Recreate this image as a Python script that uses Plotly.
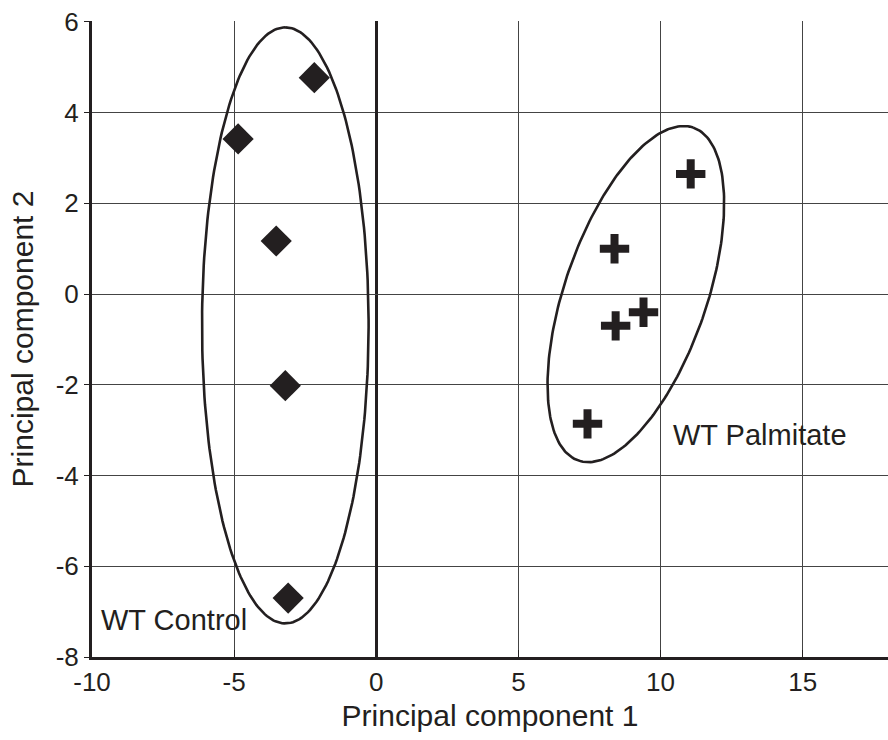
import numpy as np
import plotly.graph_objects as go

# Data
control_x = [-2.18, -4.86, -3.52, -3.2, -3.1]
control_y = [4.77, 3.42, 1.17, -2.02, -6.7]
palm_x = [11.06, 8.38, 9.4, 8.42, 7.43]
palm_y = [2.65, 1.0, -0.4, -0.7, -2.86]

x_ticks = [-10, -5, 0, 5, 10, 15]
x_ticktext = ["-10", "-5", "0", "5", "10", "15"]
y_ticks = [-8, -6, -4, -2, 0, 2, 4, 6]
y_ticktext = ["-8", "-6", "-4", "-2", "0", "2", "4", "6"]

# Group ellipses: centre and two conjugate semi-axis vectors (data units)
ell_control = dict(c=(-3.2, -0.69), u=(0.0, 6.57), v=(2.93, 0.0))
ell_palm = dict(c=(9.13, 0.0), u=(2.02, 3.67), v=(2.36, -0.51))

ink = "#231f20"
font = "Liberation Sans, Arial, sans-serif"

def ellipse(e, n=240):
    t = np.linspace(0, 2 * np.pi, n)
    cx, cy = e["c"]
    ux, uy = e["u"]
    vx, vy = e["v"]
    return cx + ux * np.cos(t) + vx * np.sin(t), cy + uy * np.cos(t) + vy * np.sin(t)

fig = go.Figure()
for e in (ell_control, ell_palm):
    ex, ey = ellipse(e)
    fig.add_trace(go.Scatter(x=ex, y=ey, mode="lines", line=dict(color=ink, width=2.6),
                             hoverinfo="skip", showlegend=False))

fig.add_trace(go.Scatter(x=control_x, y=control_y, mode="markers", name="WT Control",
                         marker=dict(symbol="diamond", size=24, color=ink, line=dict(width=0)),
                         showlegend=False))
fig.add_trace(go.Scatter(x=palm_x, y=palm_y, mode="markers", name="WT Palmitate",
                         marker=dict(symbol="cross-thin", size=21, color=ink,
                                     line=dict(width=8, color=ink)),
                         showlegend=False))

fig.add_annotation(x=-9.75, y=-7.18, text="WT Control", showarrow=False, xanchor="left",
                   yanchor="middle", font=dict(size=29, color=ink, family=font))
fig.add_annotation(x=10.38, y=-3.1, text="WT Palmitate", showarrow=False, xanchor="left",
                   yanchor="middle", font=dict(size=29, color=ink, family=font))

fig.update_layout(
    width=888, height=740,
    margin=dict(l=92, r=0, t=21, b=83),
    paper_bgcolor="white", plot_bgcolor="white",
    font=dict(family=font, color=ink, size=26),
    xaxis=dict(range=[-10, 18], tickvals=x_ticks, ticktext=x_ticktext, automargin=True,
               showgrid=True, gridcolor="#444", gridwidth=1,
               zeroline=True, zerolinecolor=ink, zerolinewidth=2.5,
               showline=True, linecolor=ink, linewidth=3, ticks="inside", ticklen=7,
               tickcolor=ink, tickfont=dict(size=26),
               title=dict(text="Principal component 1", font=dict(size=30), standoff=9)),
    yaxis=dict(range=[-8, 6.02], tickvals=y_ticks, ticktext=y_ticktext, automargin=True,
               showgrid=True, gridcolor="#444", gridwidth=1,
               zeroline=True, zerolinecolor="#444", zerolinewidth=1,
               showline=True, linecolor=ink, linewidth=3, ticks="outside", ticklen=5,
               tickcolor=ink, tickfont=dict(size=26),
               title=dict(text="Principal component 2", font=dict(size=30), standoff=14)),
)

fig.write_html("out.html", config={"displayModeBar": False},
               post_script="document.body.style.margin='0px';")
